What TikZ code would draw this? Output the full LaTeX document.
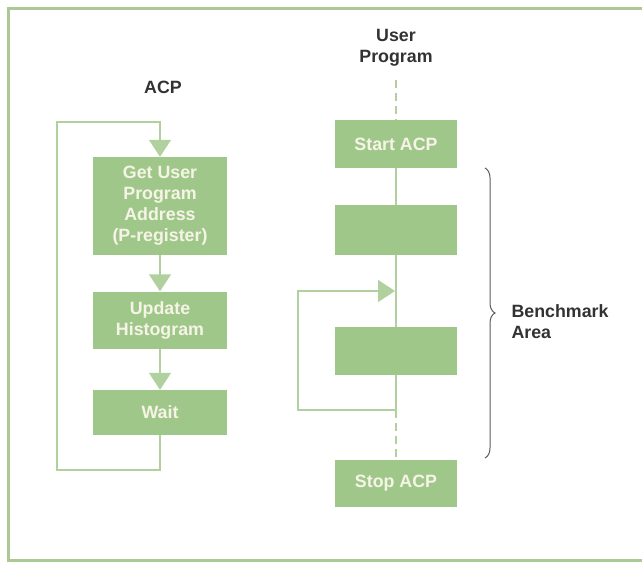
\documentclass[tikz,border=0pt]{standalone}
\usepackage{fontspec}
\setmainfont{Liberation Sans}
\usetikzlibrary{calc,positioning,arrows.meta,decorations.pathreplacing}

\definecolor{hpGreen}{RGB}{160,199,138}
\definecolor{hpLine}{RGB}{176,209,158}
\definecolor{hpFrame}{RGB}{170,201,148}
\definecolor{hpText}{RGB}{246,244,230}
\definecolor{hpLabel}{RGB}{50,50,50}

\begin{document}
\begin{tikzpicture}[x=1pt,y=-1pt,
  every node/.style={font=\bfseries\fontsize{17.8}{21}\selectfont},
  flowBox/.style={fill=hpGreen,text=hpText,align=center,inner sep=0pt,minimum width=134pt},
  userBox/.style={fill=hpGreen,text=hpText,align=center,inner sep=0pt,minimum width=122pt},
  flowLine/.style={hpLine,line width=1.4pt},
  flowArrow/.style={flowLine,-{Triangle[width=22pt,length=17pt]}},
  headLabel/.style={text=hpLabel,align=center}]

\useasboundingbox (0,0) rectangle (642,565);

% frame
\draw [hpFrame,line width=3pt] (650,8) -- (8,8) -- (8,560) -- (650,560);

% the ACP loop
\node [headLabel] (acpTitle) at (163,87) {ACP};
\node [flowBox,minimum height=98pt] (getAddr) at (160,206) {Get User\\Program\\Address\\(P-register)};
\node [flowBox,minimum height=57pt] (update) at (160,320) {Update\\Histogram};
\node [flowBox,minimum height=45pt] (wait) at (160,412.5) {Wait};

\coordinate (acpLoopBL) at (57,470);
\coordinate (acpLoopTL) at (57,122);

\draw [flowArrow] (getAddr) -- (update);
\draw [flowArrow] (update) -- (wait);
\draw [flowArrow] (wait.south) |- (acpLoopBL) -- (acpLoopTL) -| (getAddr.north);

% the user program
\node [headLabel] (userTitle) at (396,48) {User\\Program};
\node [userBox,minimum height=48pt] (startAcp) at (396,144) {Start ACP};
\node [userBox,minimum height=50pt] (blockA) at (396,230) {};
\node [userBox,minimum height=48pt] (blockB) at (396,351) {};
\node [userBox,minimum height=47pt] (stopAcp) at (396,483.5) {Stop ACP};

\coordinate (userTop) at (396,80);
\coordinate (userLoopEnd) at (396,410);
\coordinate (userLoopBL) at (298,410);
\coordinate (userLoopTL) at (298,291);
\coordinate (userLoopTip) at (395,291);

\draw [flowLine,dash pattern=on 8pt off 5pt] (userTop) -- (startAcp);
\draw [flowLine] (startAcp) -- (blockA);
\draw [flowLine] (blockA) -- (blockB);
\draw [flowLine] (blockB) -- (userLoopEnd);
\draw [flowLine,dash pattern=on 8pt off 5pt] (userLoopEnd) -- (stopAcp);
\draw [flowArrow] (userLoopEnd) -- (userLoopBL) -- (userLoopTL) -- (userLoopTip);

% benchmark brace
\draw [hpLabel!80,line width=1pt,decorate,decoration={brace,amplitude=10pt}] (485,168) -- (485,458);
\node [headLabel,align=left,anchor=west] (benchArea) at (508,322) {Benchmark\\Area};

\end{tikzpicture}
\end{document}
